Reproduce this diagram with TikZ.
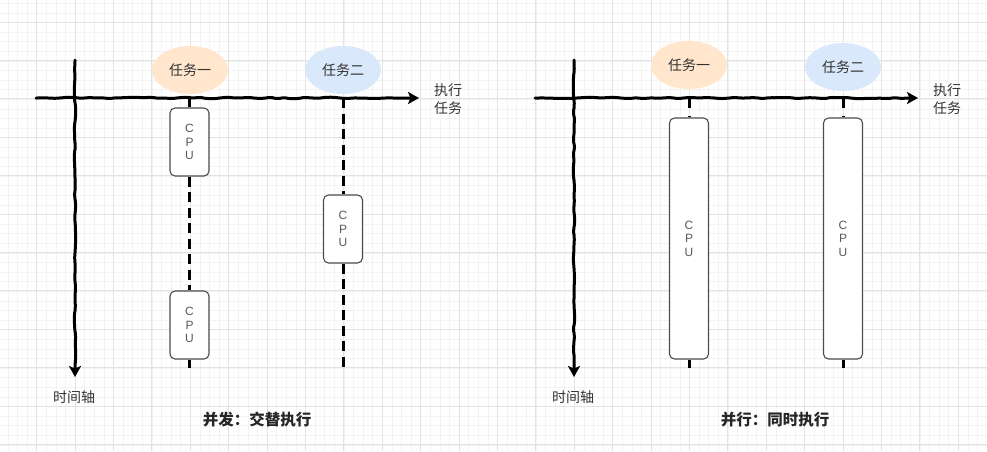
\documentclass[tikz,border=0pt]{standalone}
\usepackage{fontspec}
\setmainfont{Noto Sans CJK SC}
\newfontfamily\latinsf{Liberation Sans}
\usetikzlibrary{shapes.geometric,arrows.meta,decorations.pathmorphing}
\definecolor{peach}{HTML}{FFE6CC}
\definecolor{lblue}{HTML}{DAE8FC}
\definecolor{txt}{HTML}{333333}
\definecolor{gridmin}{HTML}{F3F3F3}
\definecolor{gridmaj}{HTML}{E3E3E3}
\begin{document}
\begin{tikzpicture}[x=1pt,y=-1pt,
  axisline/.style={line width=3pt, line cap=round, decorate,
    decoration={random steps, segment length=7pt, amplitude=0.8pt, pre length=3pt, post length=11pt},
    rounded corners=2pt, -{Stealth[length=11pt,width=12pt,inset=2.5pt]}},
  task/.style={ellipse, minimum width=76pt, minimum height=48pt, inner sep=0pt, text=txt, font=\fontsize{14}{16}\selectfont},
  cpu/.style={draw=black!70, line width=1.1pt, rounded corners=5pt, fill=white, minimum width=39pt, inner sep=0pt, text=black!65, align=center, font=\latinsf\fontsize{12}{13.5}\selectfont},
  solidl/.style={line width=3pt},
  dashl/.style={line width=3pt, dash pattern=on 10pt off 5.5pt},
  lbl/.style={text=txt, font=\fontsize{14}{18}\selectfont, align=left, inner sep=0pt},
  ttl/.style={text=black!85, font=\bfseries\fontsize{15.5}{18}\selectfont, inner sep=0pt}
]
\useasboundingbox (0,0) rectangle (987,451);
\begin{scope}
\clip (0,0) rectangle (987,451);
\foreach \i in {0,...,104} {
  \draw[gridmin, line width=0.6pt] ({-1.8+9.6*\i},0) -- ({-1.8+9.6*\i},451);
}
\foreach \i in {0,...,48} {
  \draw[gridmin, line width=0.6pt] (0,{3.2+9.6*\i}) -- (987,{3.2+9.6*\i});
}
\foreach \i in {0,...,26} {
  \draw[gridmaj, line width=0.8pt] ({-1.8+38.4*\i},0) -- ({-1.8+38.4*\i},451);
}
\foreach \i in {0,...,12} {
  \draw[gridmaj, line width=0.8pt] (0,{22+38.4*\i}) -- (987,{22+38.4*\i});
}
\end{scope}

% ---------- left panel ----------
\pgfmathsetseed{7}
\coordinate (Lh0) at (36,98);
\coordinate (Lh1) at (419,98);
\coordinate (Lv0) at (75,60);
\coordinate (Lv1) at (75,377);
\draw[axisline] (Lh0) -- (Lh1);
\draw[axisline] (Lv0) -- (Lv1);

\node[task, fill=peach] (Lt1) at (190,70) {任务一};
\node[task, fill=lblue] (Lt2) at (343,70) {任务二};

\coordinate (La1) at (189.5,98);
\coordinate (La2) at (343,98);
\coordinate (Le1) at (189.5,368);
\coordinate (Le2) at (343,368);

\node[cpu, minimum height=68pt] (Lc1) at (189.5,142) {C\\P\\U};
\node[cpu, minimum height=68pt] (Lc2) at (189.5,325) {C\\P\\U};
\node[cpu, minimum height=68pt] (Lc3) at (343,229) {C\\P\\U};

\draw[solidl] (La1) -- (Lc1.north);
\draw[dashl] (Lc1.south) -- (Lc2.north);
\draw[solidl] (Lc2.south) -- (Le1);
\draw[dashl] (La2) -- (Lc3.north);
\draw[dashl] (Lc3.south) -- (Le2);

\node[lbl, anchor=west] (Lx) at (434,99) {执行\\任务};
\node[lbl] (Ly) at (74,397) {时间轴};
\node[ttl] (Lttl) at (257,420) {并发：交替执行};

% ---------- right panel ----------
\pgfmathsetseed{11}
\coordinate (Rh0) at (535,98);
\coordinate (Rh1) at (918,98);
\coordinate (Rv0) at (574,60);
\coordinate (Rv1) at (574,377);
\draw[axisline] (Rh0) -- (Rh1);
\draw[axisline] (Rv0) -- (Rv1);

\node[task, fill=peach] (Rt1) at (689,65) {任务一};
\node[task, fill=lblue] (Rt2) at (843,67) {任务二};

\coordinate (Ra1) at (689,98);
\coordinate (Ra2) at (843,98);
\coordinate (Re1) at (689,368);
\coordinate (Re2) at (843,368);

\node[cpu, minimum height=241pt] (Rc1) at (689,238.5) {C\\P\\U};
\node[cpu, minimum height=241pt] (Rc2) at (843,238.5) {C\\P\\U};

\draw[line width=3pt, dash pattern=on 10pt off 8pt] (Ra1) -- (Rc1.north);
\draw[line width=3pt, dash pattern=on 10pt off 8pt] (Ra2) -- (Rc2.north);
\draw[solidl] (Rc1.south) -- (Re1);
\draw[solidl] (Rc2.south) -- (Re2);

\node[lbl, anchor=west] (Rx) at (933,99) {执行\\任务};
\node[lbl] (Ry) at (573,397) {时间轴};
\node[ttl] (Rttl) at (775,420) {并行：同时执行};
\end{tikzpicture}
\end{document}
